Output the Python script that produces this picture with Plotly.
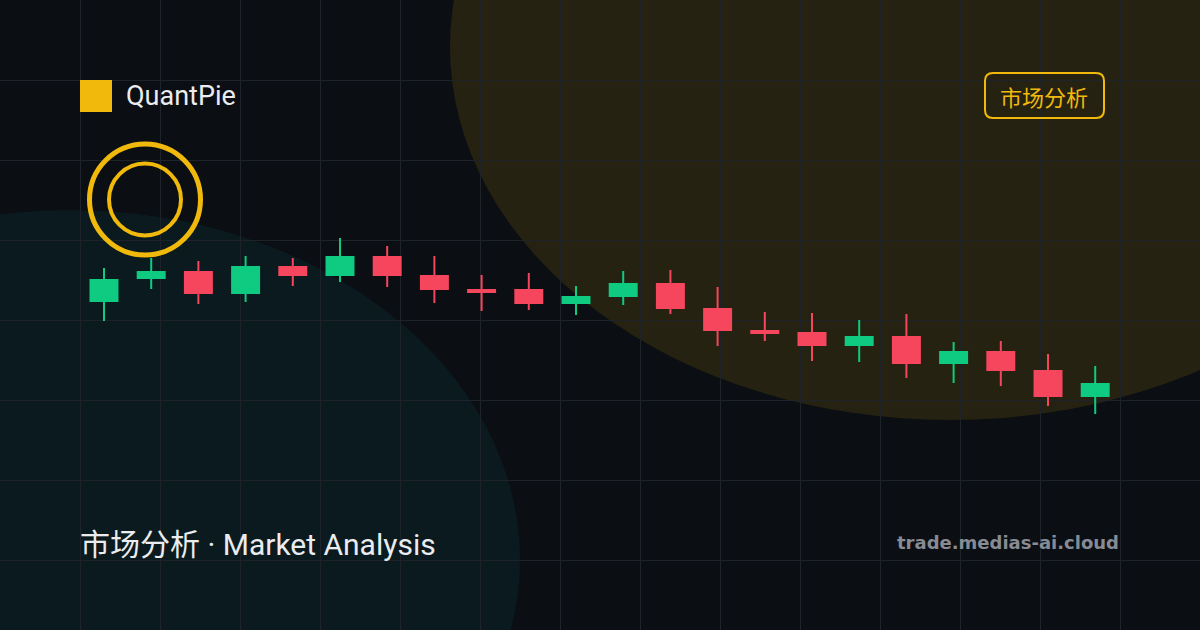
import plotly.graph_objects as go

# ---- data ----
candle_idx = list(range(22))
opens  = [32.8, 35.1, 35.9, 33.6, 36.4, 35.4, 37.4, 35.5, 34.1, 34.1, 32.6, 33.3,
          34.7, 32.2, 30.0, 29.8, 28.4, 29.4, 26.6, 27.9, 26.0, 23.3]
highs  = [36.2, 37.2, 36.9, 37.4, 37.2, 39.2, 38.4, 37.4, 35.5, 35.7, 34.4, 35.9,
          36.0, 34.3, 31.8, 31.7, 31.0, 31.6, 28.8, 28.9, 27.6, 26.4]
lows   = [30.9, 34.1, 32.6, 32.8, 34.4, 34.8, 34.3, 32.7, 31.9, 32.0, 31.5, 32.5,
          31.6, 28.4, 28.9, 26.9, 26.8, 25.2, 24.7, 24.4, 22.4, 21.6]
closes = [35.1, 35.9, 33.6, 36.4, 35.4, 37.4, 35.4, 34.0, 33.7, 32.6, 33.4, 34.7,
          32.1, 29.9, 29.6, 28.4, 29.4, 26.6, 27.9, 25.9, 23.3, 24.7]

brand_name = "QuantPie"
badge_text = "市场分析"
title_text = "市场分析 · Market Analysis"
site_text = "trade.medias-ai.cloud"

# ---- style ----
BG = "#0b0e13"
GRID = "#1e2329"
YELLOW = "#f0b90b"
UP = "#0ecb81"
DOWN = "#f6465d"
TEXT = "#eaecef"
FONT = "Roboto, Noto Sans CJK SC"

fig = go.Figure()

# invisible trace to anchor the pixel-unit grid axes
fig.add_trace(go.Scatter(x=[0], y=[0], mode="markers", marker=dict(opacity=0),
                         hoverinfo="skip", showlegend=False, xaxis="x", yaxis="y"))

# wicks
for color, is_up in ((UP, True), (DOWN, False)):
    wx, wy = [], []
    for i, o, h, l, c in zip(candle_idx, opens, highs, lows, closes):
        if (c >= o) == is_up:
            wx += [i, i, None]
            wy += [l, h, None]
    fig.add_trace(go.Scatter(x=wx, y=wy, mode="lines", line=dict(color=color, width=2),
                             hoverinfo="skip", showlegend=False, xaxis="x2", yaxis="y2"))

# bodies
fig.add_trace(go.Bar(
    x=candle_idx,
    y=[abs(c - o) for o, c in zip(opens, closes)],
    base=[min(o, c) for o, c in zip(opens, closes)],
    width=0.614,
    marker=dict(color=[UP if c >= o else DOWN for o, c in zip(opens, closes)], line=dict(width=0)),
    hoverinfo="skip", showlegend=False, xaxis="x2", yaxis="y2"))

shapes = [
    # background blobs
    dict(type="circle", xref="x", yref="y", x0=450, x1=1450, y0=-326, y1=420,
         fillcolor="rgba(240,185,11,0.12)", line=dict(width=0), layer="below"),
    dict(type="circle", xref="x", yref="y", x0=-380, x1=520, y0=210, y1=910,
         fillcolor="rgba(0,200,190,0.065)", line=dict(width=0), layer="below"),
    # rings
    dict(type="circle", xref="x", yref="y", x0=145 - 55.5, x1=145 + 55.5, y0=199.5 - 55.5, y1=199.5 + 55.5,
         line=dict(color=YELLOW, width=5), layer="above"),
    dict(type="circle", xref="x", yref="y", x0=145 - 36, x1=145 + 36, y0=199.5 - 36, y1=199.5 + 36,
         line=dict(color=YELLOW, width=4), layer="above"),
    # logo square
    dict(type="rect", xref="x", yref="y", x0=80, x1=112, y0=80, y1=112,
         fillcolor=YELLOW, line=dict(width=0), layer="above"),
]

# rounded badge
bx0, bx1, by0, by1, r = 985, 1104, 73, 118, 8
badge_path = (f"M {bx0 + r},{by0} L {bx1 - r},{by0} Q {bx1},{by0} {bx1},{by0 + r} "
              f"L {bx1},{by1 - r} Q {bx1},{by1} {bx1 - r},{by1} L {bx0 + r},{by1} "
              f"Q {bx0},{by1} {bx0},{by1 - r} L {bx0},{by0 + r} Q {bx0},{by0} {bx0 + r},{by0} Z")
shapes.append(dict(type="path", xref="x", yref="y", path=badge_path,
                   line=dict(color=YELLOW, width=2), layer="above"))

annotations = [
    dict(text=brand_name, x=124, y=96, xref="x", yref="y", xanchor="left", yanchor="middle",
         showarrow=False, font=dict(family=FONT, size=27, color=TEXT)),
    dict(text=badge_text, x=1043.5, y=95.5, xref="x", yref="y", xanchor="center", yanchor="middle",
         showarrow=False, font=dict(family="Noto Sans CJK SC", size=22, color=YELLOW)),
    dict(text=title_text, x=78, y=544, xref="x", yref="y", xanchor="left", yanchor="middle",
         showarrow=False, font=dict(family=FONT, size=30, color=TEXT)),
    dict(text=f"<b>{site_text}</b>", x=1121, y=542, xref="x", yref="y", xanchor="right", yanchor="middle",
         showarrow=False, font=dict(family="DejaVu Sans", size=18, color="#868b94")),
]

axis_common = dict(showticklabels=False, zeroline=False, showline=False, ticks="",
                   fixedrange=True)

fig.update_layout(
    width=1200, height=630,
    margin=dict(l=0, r=0, t=0, b=0),
    paper_bgcolor=BG, plot_bgcolor=BG,
    showlegend=False,
    barmode="overlay",
    xaxis=dict(range=[0, 1200], tick0=0, dtick=80, showgrid=True, gridcolor=GRID, gridwidth=1,
               **axis_common),
    yaxis=dict(range=[630, 0], tick0=0, dtick=80, showgrid=True, gridcolor=GRID, gridwidth=1,
               **axis_common),
    xaxis2=dict(range=[-2.203, 23.22], overlaying="x", visible=False, fixedrange=True),
    yaxis2=dict(range=[0, 63], overlaying="y", visible=False, fixedrange=True),
    shapes=shapes,
    annotations=annotations,
)

fig.write_html("out.html", config={"displayModeBar": False, "staticPlot": True},
               post_script="document.body.style.margin='0';document.body.style.background='" + BG + "';")
